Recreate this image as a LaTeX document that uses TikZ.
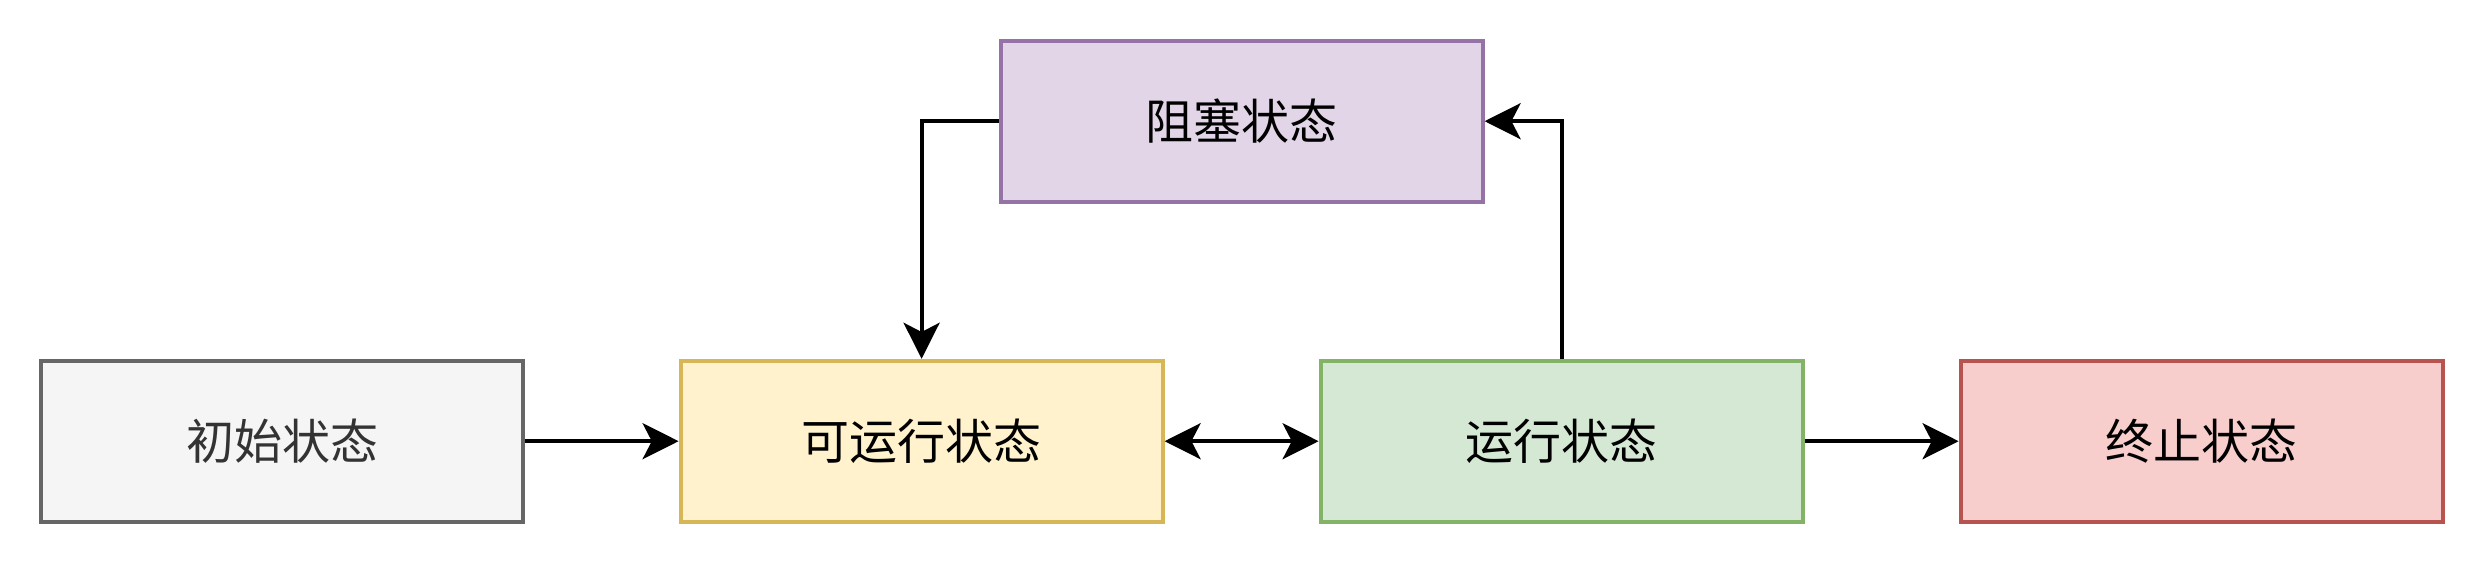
\documentclass[tikz,border=0pt]{standalone}
\usepackage{fontspec}
\setmainfont{Noto Sans CJK SC}
\usetikzlibrary{arrows.meta}
\definecolor{grayfill}{HTML}{F5F5F5}
\definecolor{graydraw}{HTML}{666666}
\definecolor{graytext}{HTML}{333333}
\definecolor{yelfill}{HTML}{FFF2CC}
\definecolor{yeldraw}{HTML}{D6B656}
\definecolor{grnfill}{HTML}{D5E8D4}
\definecolor{grndraw}{HTML}{82B366}
\definecolor{redfill}{HTML}{F8CECC}
\definecolor{reddraw}{HTML}{B85450}
\definecolor{purfill}{HTML}{E1D5E7}
\definecolor{purdraw}{HTML}{9673A6}
\tikzset{
  statebox/.style={draw, line width=1pt, minimum width=120.5pt, minimum height=40.2pt,
    inner sep=0pt, font=\fontsize{12pt}{14pt}\selectfont},
  conn/.style={line width=1pt, draw=black, -{Stealth[length=9pt,width=9pt,inset=2.3pt]}},
  dconn/.style={line width=1pt, draw=black, {Stealth[length=9pt,width=9pt,inset=2.3pt]}-{Stealth[length=9pt,width=9pt,inset=2.3pt]}}
}
\begin{document}
\begin{tikzpicture}[x=1pt,y=-1pt]
\useasboundingbox (0,0) rectangle (621,141);
\node[statebox, fill=grayfill, draw=graydraw, text=graytext] (init) at (70.5,110.3) {初始状态};
\node[statebox, fill=yelfill, draw=yeldraw] (ready) at (230.4,110.3) {可运行状态};
\node[statebox, fill=grnfill, draw=grndraw] (run) at (390.4,110.3) {运行状态};
\node[statebox, fill=redfill, draw=reddraw] (term) at (550.4,110.3) {终止状态};
\node[statebox, fill=purfill, draw=purdraw] (block) at (310.4,30.3) {阻塞状态};
\draw[conn] (init.east) -- (ready.west);
\draw[dconn] (ready.east) -- (run.west);
\draw[conn] (run.east) -- (term.west);
\draw[conn] (block.west) -| (ready.north);
\draw[conn] (run.north) |- (block.east);
\end{tikzpicture}
\end{document}
